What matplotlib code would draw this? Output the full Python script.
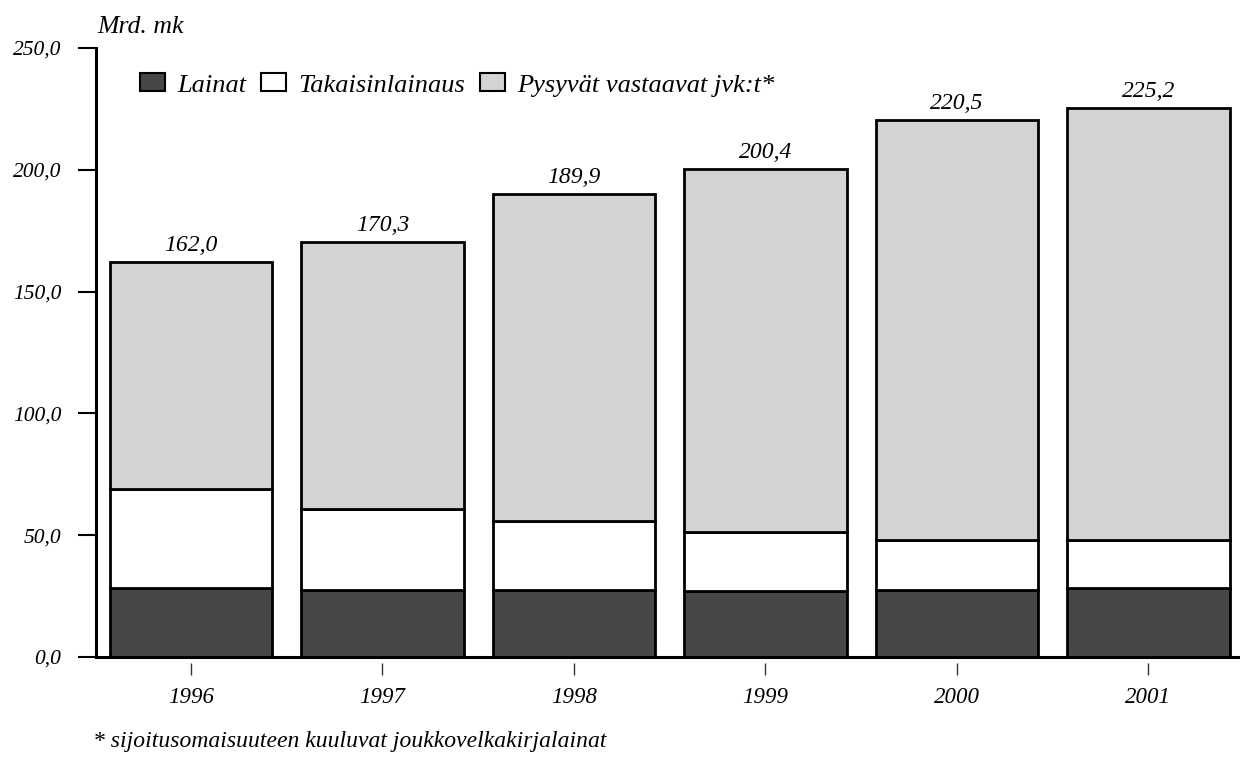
import matplotlib
matplotlib.use("Agg")
import matplotlib.pyplot as plt
import matplotlib.transforms as mtransforms
import numpy as np

years = ["1996", "1997", "1998", "1999", "2000", "2001"]
totals = [162.0, 170.3, 189.9, 200.4, 220.5, 225.2]
lainat = [28.3, 27.5, 27.5, 27.0, 27.5, 28.3]
takaisinlainaus = [40.6, 33.2, 28.4, 24.4, 20.7, 19.9]
pysyvat = [t - a - b for t, a, b in zip(totals, lainat, takaisinlainaus)]
yticks = [0, 50, 100, 150, 200, 250]
ytick_labels = ["0,0", "50,0", "100,0", "150,0", "200,0", "250,0"]
series_names = ["Lainat", "Takaisinlainaus", "Pysyvät vastaavat jvk:t*"]

plt.rcParams["font.family"] = ["Liberation Serif", "DejaVu Serif"]
plt.rcParams["font.style"] = "italic"

fig = plt.figure(figsize=(12.40, 7.58), dpi=100)
ax = fig.add_axes([96 / 1240, 1 - 657 / 758, 1 - 96 / 1240, (657 - 48) / 758])

x = np.arange(len(years))
w = 0.85
lw = 2.0
ax.bar(x, lainat, w, color="#474747", edgecolor="black", linewidth=lw, label=series_names[0], zorder=3)
ax.bar(x, takaisinlainaus, w, bottom=lainat, color="white", edgecolor="black", linewidth=lw,
       label=series_names[1], zorder=3)
bottom2 = [a + b for a, b in zip(lainat, takaisinlainaus)]
ax.bar(x, pysyvat, w, bottom=bottom2, color="#d3d3d3", edgecolor="black", linewidth=lw,
       label=series_names[2], zorder=3)

for xi, t in zip(x, totals):
    ax.annotate(f"{t:.1f}".replace(".", ","), (xi, t), xytext=(0, 8), textcoords="offset points",
                ha="center", va="baseline", fontsize=17, style="italic")

ax.set_xlim(-0.496, 5.478)
ax.set_ylim(0, 250)
ax.set_yticks(yticks)
ax.set_yticklabels(ytick_labels, fontsize=15.5, style="italic")
ax.tick_params(axis="y", direction="out", length=13, width=1.5, pad=12)
ax.set_xticks([])

trans = mtransforms.blended_transform_factory(ax.transData, ax.transAxes)
ax.vlines(x, -0.010, -0.029, transform=trans, colors="#333333", linewidth=1.0, clip_on=False)
for xi, yr in zip(x, years):
    ax.text(xi, -0.067, yr, transform=trans, ha="center", va="center", fontsize=16.5, style="italic")

for s in ["top", "right"]:
    ax.spines[s].set_visible(False)
ax.spines["left"].set_linewidth(2.2)
ax.spines["bottom"].set_linewidth(2.2)
ax.spines["bottom"].set_zorder(4)

fig.text(97 / 1240, 1 - 27 / 758, "Mrd. mk", ha="left", va="center", fontsize=18.5, style="italic")
fig.text(93 / 1240, 1 - 741 / 758, "* sijoitusomaisuuteen kuuluvat joukkovelkakirjalainat",
         ha="left", va="center", fontsize=17, style="italic")

leg = ax.legend(loc="center left", bbox_to_anchor=(140 / 1240, 1 - 85 / 758), bbox_transform=fig.transFigure,
                ncol=3, frameon=False, fontsize=19, handlelength=0.95, handleheight=0.68,
                handletextpad=0.45, columnspacing=0.57, borderpad=0, borderaxespad=0)
for t in leg.get_texts():
    t.set_style("italic")
for p in leg.get_patches():
    p.set_linewidth(1.5)

fig.savefig("out.png", dpi=100)
